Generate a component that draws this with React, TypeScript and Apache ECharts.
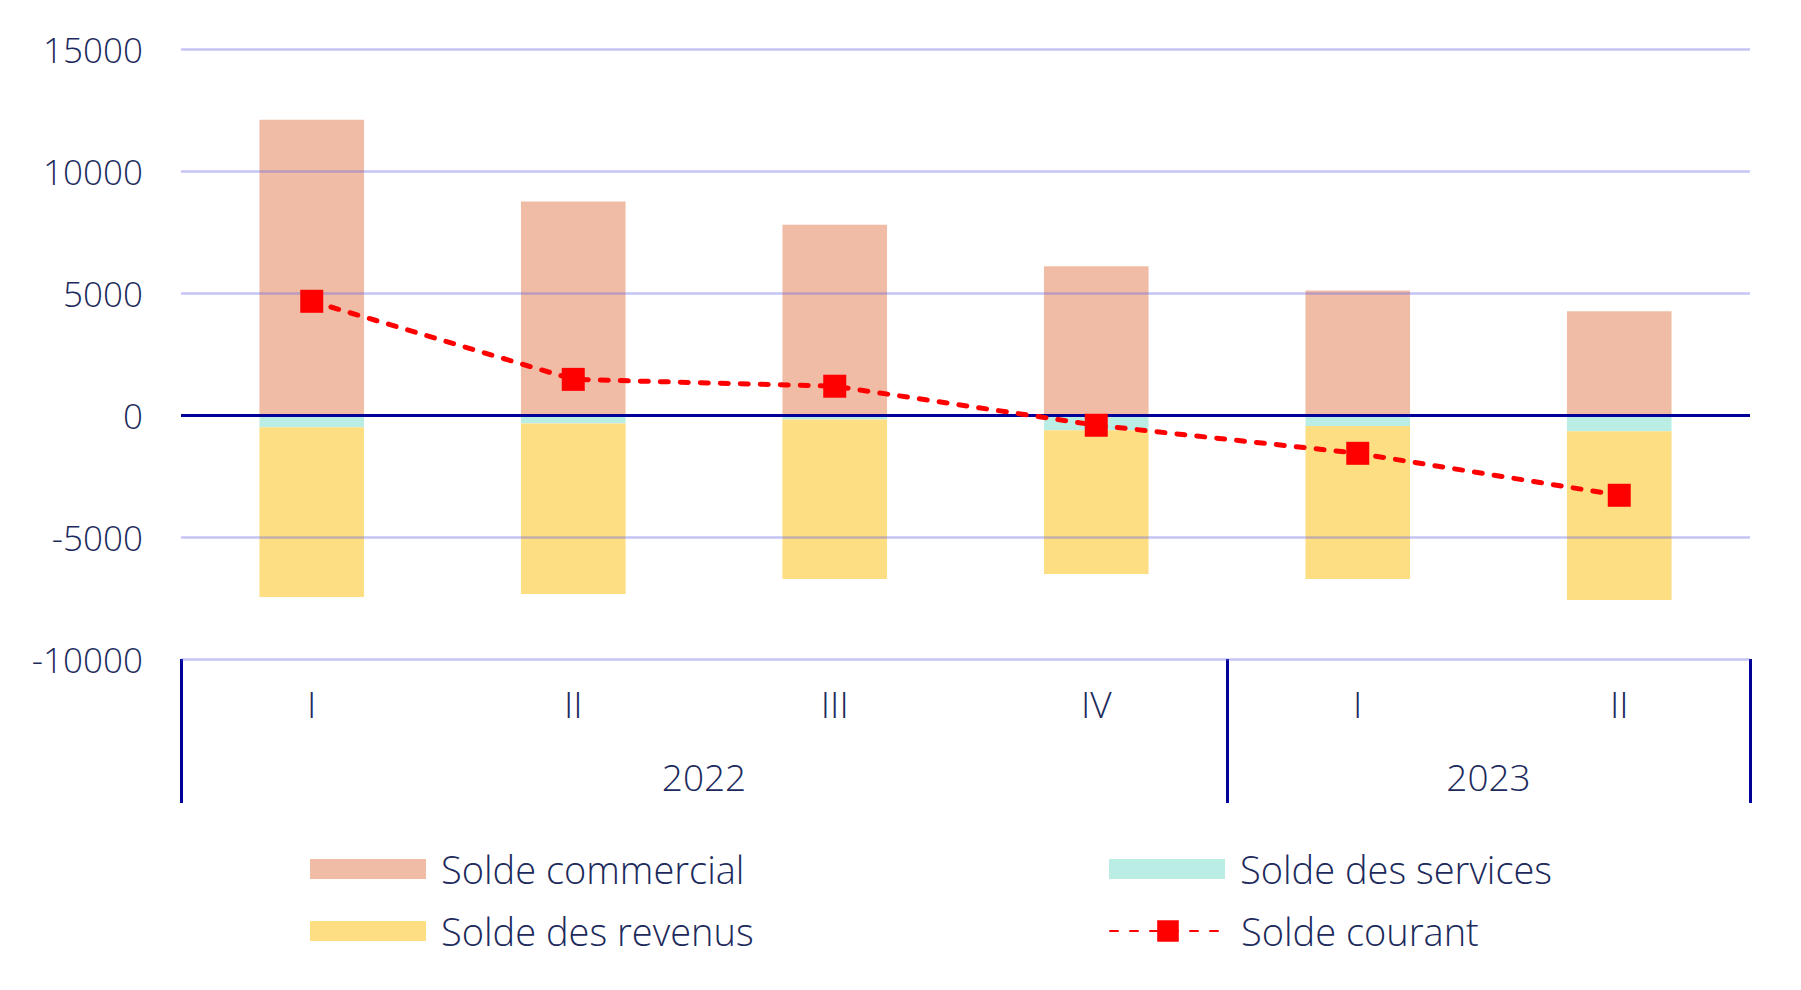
import React, { useEffect, useRef } from "react";
import * as echarts from "echarts";

const quarters = ["I", "II", "III", "IV", "I", "II"];
const years = ["2022", "2023"];
const yearSpans = [4, 2];
const soldeCommercial = [12100, 8750, 7800, 6100, 5100, 4250];
const soldeServices = [-500, -350, -180, -620, -450, -670];
const soldeRevenus = [-6960, -6990, -6540, -5900, -6270, -6910];
const soldeCourant = [4660, 1460, 1180, -420, -1570, -3290];
const yTicks = { min: -10000, max: 15000, interval: 5000 };

const TEXT = "#1c2a5c";
const NAVY = "#000099";
const FONT = "'Open Sans', Lato, sans-serif";

// year axis: 2 slots per quarter + boundary points (boundaryGap false)
const yearSlots: string[] = [];
const boundaries: number[] = [0];
{
  let pos = 0;
  for (let i = 0; i < years.length; i++) {
    pos += yearSpans[i] * 2;
    boundaries.push(pos);
  }
  for (let k = 0; k <= pos; k++) yearSlots.push("");
  let start = 0;
  for (let i = 0; i < years.length; i++) {
    yearSlots[start + yearSpans[i]] = years[i];
    start += yearSpans[i] * 2;
  }
}

export default function App() {
  const ref = useRef<HTMLDivElement>(null);
  useEffect(() => {
    if (!ref.current) return;
    const chart = echarts.init(ref.current, undefined, { renderer: "svg" });
    const textStyle = { fontFamily: FONT, fontSize: 35, fontWeight: 300, color: TEXT, lineHeight: 36 };
    const xText = { ...textStyle, fontSize: 37 };
    const legendBase = {
      orient: "horizontal",
      itemWidth: 116,
      itemHeight: 20,
      itemGap: 15,
      padding: 0,
      selectedMode: false,
      textStyle: { ...textStyle, fontSize: 38, lineHeight: 38, padding: [0, 0, 6, 10] },
    };
    chart.setOption({
      animation: false,
      backgroundColor: "#ffffff",
      textStyle: { fontFamily: FONT },
      grid: { left: 181, right: 51, top: 49, bottom: 331, containLabel: false },
      legend: [
        { ...legendBase, data: [{ name: "Solde commercial", icon: "rect" }], left: 310, top: 847 },
        { ...legendBase, data: [{ name: "Solde des services", icon: "rect" }], left: 1109, top: 847 },
        { ...legendBase, data: [{ name: "Solde des revenus", icon: "rect" }], left: 310, top: 909 },
        { ...legendBase, itemHeight: 27, data: [{ name: "Solde courant" }], left: 1109, top: 909 },
      ],
      xAxis: [
        {
          type: "category",
          data: quarters,
          position: "bottom",
          axisLine: { show: false, onZero: false },
          axisTick: { show: false },
          axisLabel: { ...xText, interval: 0, margin: 26 },
          splitLine: { show: false },
        },
        {
          type: "category",
          data: yearSlots,
          boundaryGap: false,
          position: "bottom",
          axisLine: { show: false, onZero: false },
          axisTick: {
            show: true,
            interval: (index: number) => boundaries.indexOf(index) >= 0,
            length: 144,
            lineStyle: { color: NAVY, width: 3 },
          },
          axisLabel: { ...xText, interval: 0, margin: 99 },
          splitLine: { show: false },
        },
      ],
      yAxis: {
        type: "value",
        min: yTicks.min,
        max: yTicks.max,
        interval: yTicks.interval,
        z: 3,
        axisLine: { show: false },
        axisTick: { show: false },
        axisLabel: { ...textStyle, margin: 38, formatter: (v: number) => String(v) },
        splitLine: { lineStyle: { color: "rgba(100,100,230,0.38)", width: 2.5 } },
      },
      series: [
        {
          name: "Solde commercial",
          type: "bar",
          stack: "total",
          barWidth: "40%",
          data: soldeCommercial,
          itemStyle: { color: "#F0BCA5" },
          markLine: {
            z: 5,
            silent: true,
            symbol: "none",
            label: { show: false },
            lineStyle: { color: NAVY, width: 3, type: "solid" },
            data: [{ yAxis: 0 }],
          },
        },
        {
          name: "Solde des services",
          type: "bar",
          stack: "total",
          barWidth: "40%",
          data: soldeServices,
          itemStyle: { color: "#BAEEE5" },
        },
        {
          name: "Solde des revenus",
          type: "bar",
          stack: "total",
          barWidth: "40%",
          data: soldeRevenus,
          itemStyle: { color: "#FEDE83" },
        },
        {
          name: "Solde courant",
          type: "line",
          z: 10,
          data: soldeCourant,
          symbol: "rect",
          symbolSize: 23,
          itemStyle: { color: "#FF0000" },
          lineStyle: { color: "#FF0000", width: 5, type: [8, 12], cap: "round" },
        },
      ],
    });
    return () => chart.dispose();
  }, []);
  return (
    <div
      ref={ref}
      style={{ position: "fixed", left: 0, top: 0, width: 1801, height: 990, background: "#fff" }}
    />
  );
}
